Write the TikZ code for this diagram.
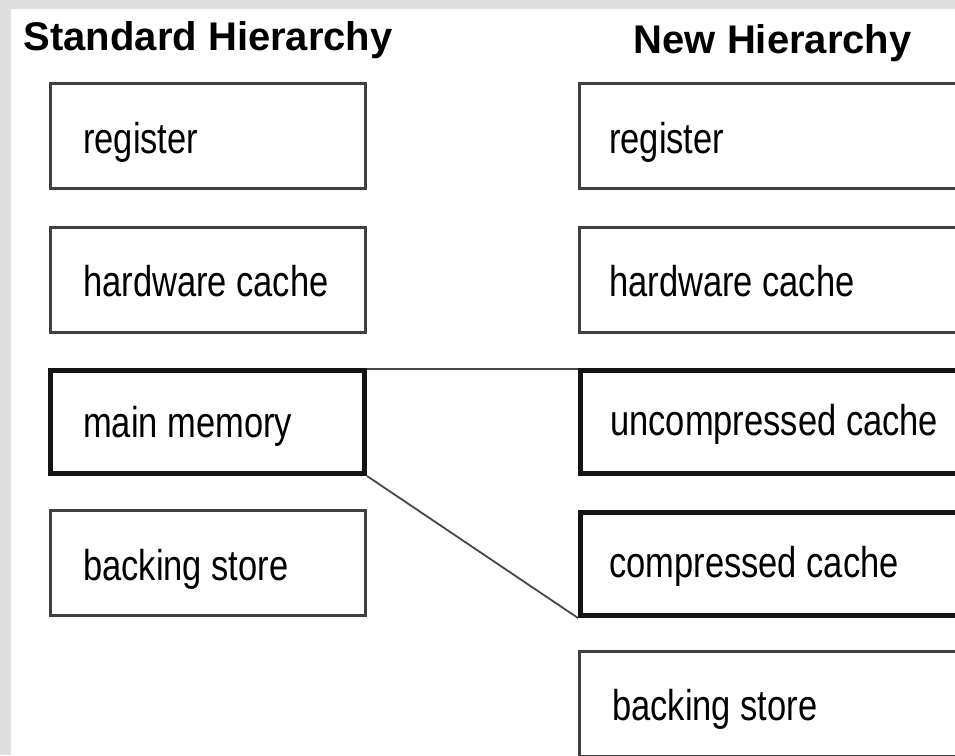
\documentclass[tikz,border=0pt]{standalone}
\usepackage{fontspec}
\setmainfont{Liberation Sans}
\definecolor{bggray}{HTML}{DFDFDF}
\definecolor{edgegray}{HTML}{404040}
\newcommand{\tallbox}[1]{\scalebox{1}[1.25]{#1}}
\tikzset{
  box/.style={draw=edgegray, line width=2.6pt, fill=white, rectangle, inner sep=0pt,
              minimum width=315.4pt, minimum height=105.4pt, anchor=north west},
  rbox/.style={box, minimum width=400pt},
  thickbox/.style={line width=5pt, draw=black!92, minimum height=103pt},
  lbl/.style={anchor=base west, inner sep=0pt, font=\fontsize{34.5}{40}\selectfont},
  title/.style={anchor=base west, inner sep=0pt, font=\fontsize{40}{46}\selectfont\bfseries},
  conn/.style={draw=black!72, line width=1.8pt}
}
\begin{document}
\begin{tikzpicture}[x=1pt,y=-1pt]
\useasboundingbox (0,0) rectangle (955,755);
\clip (0,0) rectangle (955,755);
\fill[bggray] (0,0) rectangle (955,755);
\fill[white] (11,9) rectangle (955,755);

\node[title] (tstd) at (23.5,50) {Standard Hierarchy};
\node[title] (tnew) at (633.5,53) {New Hierarchy};

% left column
\node[box] (sreg) at (49,82) {};
\node[box] (shw)  at (49,226) {};
\node[box,thickbox,minimum width=314pt] (smm) at (48,368) {};
\node[box] (sbs)  at (49,509) {};

% right column
\node[rbox] (nreg) at (578,82) {};
\node[rbox] (nhw)  at (578,226) {};
\node[rbox,thickbox] (nuc) at (578,368) {};
\node[rbox,thickbox] (ncc) at (578,510) {};
\node[rbox] (nbs)  at (578,650) {};

% connectors
\draw[conn] ([yshift=-1pt]smm.north east) -- ([yshift=-1pt]nuc.north west);
\draw[conn] (smm.south east) -- (ncc.south west);

% labels
\node[lbl] (lsreg) at ([xshift=34pt,yshift=-71pt]sreg.north west) {\tallbox{register}};
\node[lbl] (lshw)  at ([xshift=34pt,yshift=-70pt]shw.north west) {\tallbox{hardware cache}};
\node[lbl] (lsmm)  at ([xshift=35pt,yshift=-69pt]smm.north west) {\tallbox{main memory}};
\node[lbl] (lsbs)  at ([xshift=34pt,yshift=-71pt]sbs.north west) {\tallbox{backing store}};

\node[lbl] (lnreg) at ([xshift=31pt,yshift=-71pt]nreg.north west) {\tallbox{register}};
\node[lbl] (lnhw)  at ([xshift=31pt,yshift=-70pt]nhw.north west) {\tallbox{hardware cache}};
\node[lbl] (lnuc)  at ([xshift=32pt,yshift=-67pt]nuc.north west) {\tallbox{uncompressed cache}};
\node[lbl] (lncc)  at ([xshift=31pt,yshift=-67pt]ncc.north west) {\tallbox{compressed cache}};
\node[lbl] (lnbs)  at ([xshift=34pt,yshift=-70pt]nbs.north west) {\tallbox{backing store}};
\end{tikzpicture}
\end{document}
